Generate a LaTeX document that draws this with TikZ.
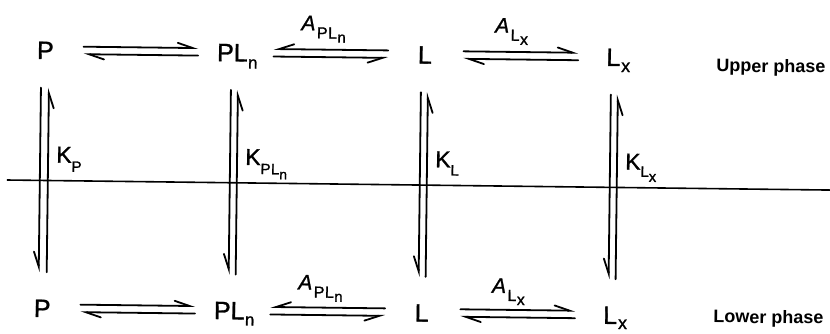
\documentclass[tikz,border=0pt]{standalone}
\usepackage{fontspec}
\setmainfont{Liberation Sans}
\newfontfamily\plotfont{Liberation Sans}[FakeBold=1.2]
\usetikzlibrary{arrows.meta}
\newcommand\fsz[1]{\fontsize{#1}{#1}\selectfont}
\begin{document}
\begin{tikzpicture}[x=1pt,y=-1pt,
  sp/.style={inner sep=0pt, text height=18pt, text depth=0pt, anchor=base, font=\plotfont\fsz{25}},
  klab/.style={inner sep=0pt, anchor=base west, font=\plotfont\fsz{23}},
  alab/.style={inner sep=0pt, anchor=south, font=\plotfont\fsz{21}},
  phase/.style={inner sep=0pt, anchor=base west, font=\fsz{18}\bfseries},
  hl/.style={line width=1.8pt, line cap=round, -{Straight Barb[harpoon, length=15pt, width=10pt, line cap=round]}},
  hr/.style={line width=1.8pt, line cap=round, -{Straight Barb[harpoon, swap, length=15pt, width=10pt, line cap=round]}},
  divider/.style={line width=1.6pt}
]
\useasboundingbox (0,0) rectangle (830,334);
\begin{scope}[rotate around={-0.7:(415,167)}, transform shape]
% species, upper row
\node[sp] (Pu)  at (44,63.5)    {P};
\node[sp] (PLu) at (236,63.5)   {PL\kern0.5pt\raisebox{-7pt}{\fsz{17}n}};
\node[sp] (Lu)  at (423.5,63.5) {L};
\node[sp] (Lxu) at (617,63.5)   {L\kern1pt\raisebox{-6pt}{\fsz{18}x}};
% species, lower row
\node[sp] (Pl)  at (44,321.5)    {P};
\node[sp] (PLl) at (236,321.5)   {PL\kern0.5pt\raisebox{-6pt}{\fsz{17}n}};
\node[sp] (Ll)  at (423.5,321.5) {L};
\node[sp] (Lxl) at (617,321.5)   {L\kern1pt\raisebox{-5pt}{\fsz{18}x}};
% phase labels
\node[phase] (up) at (715,68)  {Upper phase};
\node[phase] (lo) at (715,319) {Lower phase};
% interface
\coordinate (ifL) at (7,185);
\coordinate (ifR) at (834,185);
\draw[divider] (ifL) -- (ifR);
% horizontal equilibria
\foreach \r in {u,l}{
  \draw[hl, shorten <=29.6pt, shorten >=18.7pt] ([yshift=3.75pt]P\r.east) -- ([yshift=3.75pt]PL\r.west);
  \draw[hl, shorten <=18.7pt, shorten >=29.6pt] ([yshift=-3.75pt]PL\r.west) -- ([yshift=-3.75pt]P\r.east);
  \draw[hr, shorten <=29.5pt, shorten >=15.7pt] ([yshift=3.75pt]L\r.west) -- ([yshift=3.75pt]PL\r.east);
  \draw[hr, shorten <=15.7pt, shorten >=29.5pt] ([yshift=-3.75pt]PL\r.east) -- ([yshift=-3.75pt]L\r.west);
  \draw[hl, shorten <=31.5pt, shorten >=28pt] ([yshift=3.75pt]L\r.east) -- ([yshift=3.75pt]Lx\r.west);
  \draw[hl, shorten <=28pt, shorten >=31.5pt] ([yshift=-3.75pt]Lx\r.west) -- ([yshift=-3.75pt]L\r.east);
}
% vertical partition equilibria
\draw[hr, shorten <=28.5pt, shorten >=26.5pt] ([xshift=-4pt]Pu.south) -- ([xshift=-4pt]Pl.north);
\draw[hr, shorten <=26.5pt, shorten >=28.5pt] ([xshift=4pt]Pl.north) -- ([xshift=4pt]Pu.south);
\draw[hr, shorten <=28.5pt, shorten >=26.5pt] ([xshift=-6pt]PLu.south) -- ([xshift=-6pt]PLl.north);
\draw[hr, shorten <=26.5pt, shorten >=28.5pt] ([xshift=1pt]PLl.north) -- ([xshift=1pt]PLu.south);
\draw[hr, shorten <=28.5pt, shorten >=26.5pt] ([xshift=-3.5pt]Lu.south) -- ([xshift=-3.5pt]Ll.north);
\draw[hr, shorten <=26.5pt, shorten >=28.5pt] ([xshift=3.5pt]Ll.north) -- ([xshift=3.5pt]Lu.south);
\draw[hr, shorten <=28.5pt, shorten >=26.5pt] ([xshift=-7pt]Lxu.south) -- ([xshift=-7pt]Lxl.north);
\draw[hr, shorten <=26.5pt, shorten >=28.5pt] ([xshift=0pt]Lxl.north) -- ([xshift=0pt]Lxu.south);
% rate / partition labels
\node[alab] (Apu) at (322,43.75) {\textit{A}\kern1.5pt\raisebox{-8pt}{\fsz{16}P\kern0.5pt L\kern0.5pt\raisebox{-4pt}{\fsz{15}n}}};
\node[alab] (Axu) at (510,43.75) {\textit{A}\kern1.5pt\raisebox{-8pt}{\fsz{16}L\kern0.5pt\raisebox{-4pt}{\fsz{16}x}}};
\node[alab] (Apl) at (322,303) {\textit{A}\kern1.5pt\raisebox{-8pt}{\fsz{16}P\kern0.5pt L\kern0.5pt\raisebox{-4pt}{\fsz{15}n}}};
\node[alab] (Axl) at (510,304) {\textit{A}\kern1.5pt\raisebox{-8pt}{\fsz{16}L\kern0.5pt\raisebox{-4pt}{\fsz{16}x}}};
\node[klab] (KP)  at (56,167)  {K\raisebox{-9pt}{\fsz{15}P}};
\node[klab] (KPL) at (245,167) {K\raisebox{-9pt}{\fsz{15}P\kern0.5pt L\raisebox{-5pt}{\fsz{14}n}}};
\node[klab] (KL)  at (435,167) {K\raisebox{-8pt}{\fsz{15}L}};
\node[klab] (KLx) at (625,167) {K\raisebox{-7pt}{\fsz{15}L\raisebox{-5pt}{\fsz{15}x}}};
\end{scope}
\end{tikzpicture}
\end{document}
